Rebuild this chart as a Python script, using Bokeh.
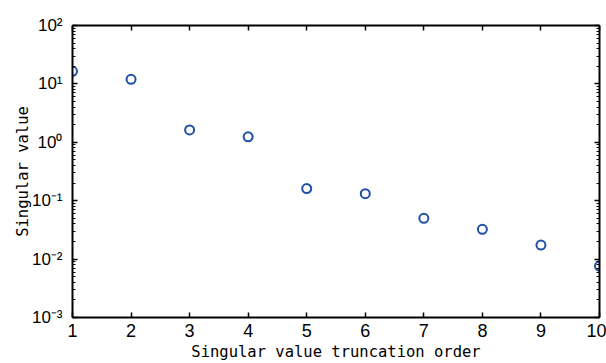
from bokeh.plotting import figure
from bokeh.models import (Range1d, FixedTicker, LogAxis, LinearAxis, CustomJSTickFormatter)
from bokeh.embed import file_html
from bokeh.resources import INLINE

# Data
orders = [1, 2, 3, 4, 5, 6, 7, 8, 9, 10]
singular_values = [16.4, 12.0, 1.63, 1.24, 0.161, 0.132, 0.050, 0.0323, 0.0174, 0.0076]
x_ticks = [1, 2, 3, 4, 5, 6, 7, 8, 9, 10]
y_exponents = [-3, -2, -1, 0, 1, 2]

y_ticks = [10.0 ** e for e in y_exponents]
y_minor = [m * 10.0 ** e for e in y_exponents[:-1] for m in range(2, 10)]

TICK_FONT = "'Liberation Sans Narrow', 'Liberation Sans', Arial, sans-serif"
LABEL_FONT = "'DejaVu Sans Mono', 'Liberation Mono', monospace"
BLUE = "#1f50a6"

p = figure(width=606, height=363, output_backend="svg", toolbar_location=None,
           y_axis_type="log", x_range=Range1d(1, 10), y_range=Range1d(1e-3, 1e2),
           min_border_left=72, min_border_right=7, min_border_top=25, min_border_bottom=45)
p.outline_line_color = None
p.grid.grid_line_color = None
p.background_fill_color = "white"
p.border_fill_color = "white"

sup_code = """
const sup = {'-':'\u207b','0':'\u2070','1':'\u00b9','2':'\u00b2','3':'\u00b3','4':'\u2074','5':'\u2075','6':'\u2076','7':'\u2077','8':'\u2078','9':'\u2079'};
const e = Math.round(Math.log10(tick));
return '10' + String(e).split('').map(c => sup[c]).join('');
"""

def style_axis(ax, show_labels):
    ax.axis_line_width = 2
    ax.axis_line_color = "black"
    ax.major_tick_line_color = "black"
    ax.major_tick_line_width = 1.5
    ax.major_tick_in = 5
    ax.major_tick_out = 0
    ax.minor_tick_line_color = "black"
    ax.minor_tick_in = 3
    ax.minor_tick_out = 0
    ax.major_label_text_font = TICK_FONT
    ax.major_label_text_color = "black"
    if not show_labels:
        ax.major_label_text_color = None
        ax.major_label_text_font_size = "1px"
        ax.major_label_standoff = 0

# x axis (bottom)
xa = p.xaxis[0]
xa.ticker = FixedTicker(ticks=x_ticks)
style_axis(xa, True)
xa.minor_tick_line_color = None
xa.major_label_text_font_size = "18px"
xa.major_label_standoff = 6
xa.axis_label = "Singular value truncation order"
xa.axis_label_text_font = LABEL_FONT
xa.axis_label_text_font_size = "15.5px"
xa.axis_label_text_font_style = "normal"
xa.axis_label_text_color = "black"
xa.axis_label_standoff = 3

# y axis (left)
ya = p.yaxis[0]
ya.ticker = FixedTicker(ticks=y_ticks, minor_ticks=y_minor)
ya.formatter = CustomJSTickFormatter(code=sup_code)
style_axis(ya, True)
ya.major_label_text_font_size = "17px"
ya.major_label_standoff = 10
ya.axis_label = "Singular value"
ya.axis_label_text_font = LABEL_FONT
ya.axis_label_text_font_size = "15.5px"
ya.axis_label_text_font_style = "normal"
ya.axis_label_text_color = "black"
ya.axis_label_standoff = -3

# box: top and right axes
top = LinearAxis(ticker=FixedTicker(ticks=x_ticks))
style_axis(top, False)
top.minor_tick_line_color = None
p.add_layout(top, "above")

right = LogAxis(ticker=FixedTicker(ticks=y_ticks, minor_ticks=y_minor))
style_axis(right, False)
p.add_layout(right, "right")

p.scatter(orders, singular_values, marker="circle", size=9, fill_color=None,
          line_color=BLUE, line_width=2)

open("out.html", "w").write(file_html(p, INLINE))
